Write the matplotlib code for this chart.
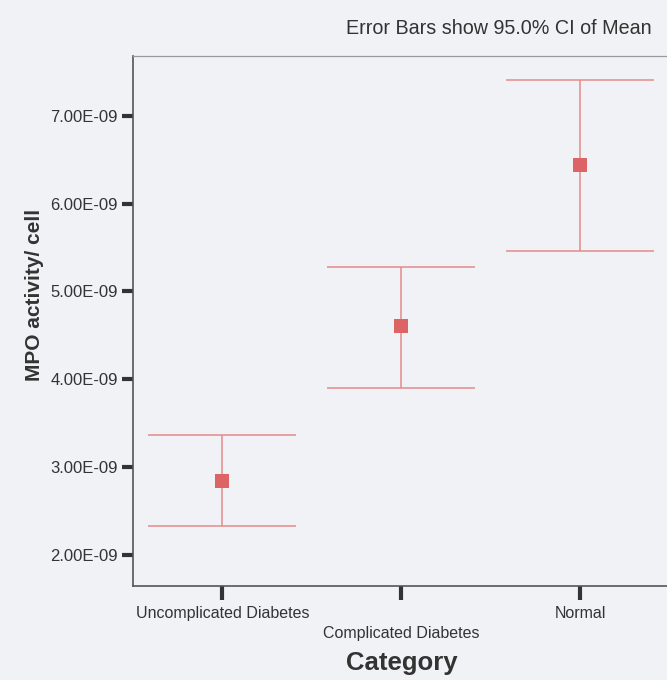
import matplotlib
matplotlib.use('Agg')
import matplotlib.pyplot as plt
import numpy as np

plt.rcParams['font.family'] = ['Liberation Sans', 'DejaVu Sans']

# values (MPO activity per cell)
categories = ['Uncomplicated Diabetes', 'Complicated Diabetes', 'Normal']
means = [2.85e-9, 4.61e-9, 6.44e-9]
ci_lower = [2.33e-9, 3.90e-9, 5.46e-9]
ci_upper = [3.37e-9, 5.28e-9, 7.41e-9]
y_ticks = [2e-9, 3e-9, 4e-9, 5e-9, 6e-9, 7e-9]
y_tick_labels = ['2.00E-09', '3.00E-09', '4.00E-09', '5.00E-09', '6.00E-09', '7.00E-09']

bg = '#f1f2f5'
fig = plt.figure(figsize=(6.67, 6.80), dpi=100, facecolor=bg)
ax = fig.add_axes([0.1994, 0.138, 0.805, 0.780], facecolor=bg)

x = np.arange(len(categories))
m = np.array(means)
yerr = [m - np.array(ci_lower), np.array(ci_upper) - m]

ax.errorbar(x, m, yerr=yerr, fmt='none', ecolor='#e58a8a', elinewidth=1.1,
            capsize=53, capthick=1.1)
ax.plot(x, m, 's', color='#dc6464', markersize=9.5, markeredgewidth=0)

ax.set_xlim(-0.5, 2.5)
ax.set_ylim(1.65e-9, 7.68e-9)

ax.set_yticks(y_ticks)
ax.set_yticklabels(y_tick_labels, fontsize=12, color='#333333')
ax.set_xticks(x)
ax.set_xticklabels(categories, fontsize=11.5, color='#333333')

ax.tick_params(axis='y', direction='out', length=8, width=3, color='#333333', pad=3)
ax.tick_params(axis='x', direction='out', length=10, width=3, color='#333333', pad=4)
# the middle category label sits one line lower
ax.xaxis.get_major_ticks()[1].set_pad(19)

for side in ['left', 'bottom']:
    ax.spines[side].set_color('#555555')
    ax.spines[side].set_linewidth(1.2)
ax.spines['top'].set_color('#9a9a9a')
ax.spines['top'].set_linestyle((0, (3, 1)))
ax.spines['top'].set_linewidth(0.9)
ax.spines['right'].set_visible(False)

ax.set_ylabel('MPO activity/ cell', fontsize=15, fontweight='bold', color='#333333')
ax.yaxis.set_label_coords(-0.165, 0.55)
ax.set_xlabel('Category', fontsize=18.5, fontweight='bold', color='#333333')
ax.xaxis.set_label_coords(0.5, -0.123)

fig.text(0.748, 0.958, 'Error Bars show 95.0% CI of Mean', fontsize=14.2,
         color='#333333', ha='center', va='center')

fig.savefig('out.png', dpi=100, facecolor=bg)
